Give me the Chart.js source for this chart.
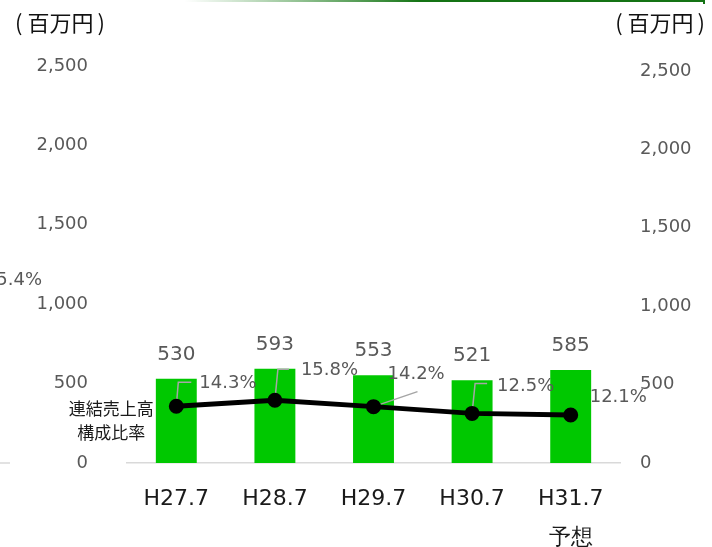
<!DOCTYPE html>
<html>
<head>
<meta charset="utf-8">
<script src="https://cdn.jsdelivr.net/npm/chart.js@4"></script>
<style>
  html, body { margin: 0; padding: 0; background: #ffffff; }
  #wrap { width: 712px; height: 547px; position: relative; }
</style>
</head>
<body>
<div id="wrap"><canvas id="chart" width="712" height="547"></canvas></div>
<script>
// 連結売上高（百万円）と構成比率（%）
const categories = ["H27.7", "H28.7", "H29.7", "H30.7", ["H31.7", "予想"]];
const sales = [530, 593, 553, 521, 585];
const shareRatio = [14.3, 15.8, 14.2, 12.5, 12.1];
const amountTicks = [0, 500, 1000, 1500, 2000, 2500];
const unitLabel = "百万円";
const seriesName = ["連結売上高", "構成比率"];
const offChartRatio = "15.4%";

// label placement for the ratio values (relative to each point)
const ratioLabelPlacement = [
  { dx: 23, dy: -23, leader: [[2, -24], [15, -24]] },
  { dx: 26, dy: -30, leader: [[3, -31], [14, -31]] },
  { dx: 14, dy: -32, leader: [[44, -15]] },
  { dx: 25, dy: -27, leader: [[3, -30], [15, -30]] },
  { dx: 19, dy: -18, leader: [] }
];

const GREY_TEXT = '#595959';
const NUM_FONT = '"DejaVu Sans", Verdana, sans-serif';
const JP_FONT = '"Noto Sans CJK JP", "Noto Sans", sans-serif';

// "(unit)" caption with a little air inside the parentheses
function drawUnit(ctx, startX, y) {
  ctx.textAlign = 'left';
  const wOpen = ctx.measureText('(').width;
  const wText = ctx.measureText(unitLabel).width;
  ctx.fillText('(', startX, y);
  ctx.fillText(unitLabel, startX + wOpen + 5, y);
  ctx.fillText(')', startX + wOpen + 5 + wText + 4, y);
  return wOpen + 5 + wText + 4 + ctx.measureText(')').width;
}

const annotate = {
  id: 'annotate',
  afterDatasetDraw(chart, args) {
    if (args.index !== 0) return;
    // leader lines sit above the bars but under the ratio line
    const ctx = chart.ctx;
    const pts = chart.getDatasetMeta(1).data;
    ctx.save();
    ctx.strokeStyle = '#a6a6a6';
    ctx.lineWidth = 1.5;
    pts.forEach((p, i) => {
      const lead = ratioLabelPlacement[i].leader;
      if (!lead.length) return;
      ctx.beginPath();
      ctx.moveTo(p.x, p.y);
      lead.forEach(([dx, dy]) => ctx.lineTo(p.x + dx, p.y + dy));
      ctx.stroke();
    });
    ctx.restore();
  },
  afterDraw(chart) {
    const ctx = chart.ctx;
    const area = chart.chartArea;
    const bars = chart.getDatasetMeta(0).data;
    const pts = chart.getDatasetMeta(1).data;
    ctx.save();

    // bar values
    ctx.fillStyle = GREY_TEXT;
    ctx.font = '20px ' + NUM_FONT;
    ctx.textAlign = 'center';
    ctx.textBaseline = 'middle';
    bars.forEach((b, i) => ctx.fillText(String(sales[i]), b.x, b.y - 24.5));

    // ratio values
    ctx.font = '18px ' + NUM_FONT;
    ctx.textAlign = 'left';
    pts.forEach((p, i) => {
      const pl = ratioLabelPlacement[i];
      ctx.fillText(shareRatio[i].toFixed(1) + '%', p.x + pl.dx, p.y + pl.dy);
    });

    // ratio carried over from the neighbouring panel, cut by the edge
    ctx.textAlign = 'right';
    ctx.fillText(offChartRatio, 42, 280);

    // series name beside the first point
    ctx.fillStyle = '#1a1a1a';
    ctx.font = '17px ' + JP_FONT;
    ctx.textAlign = 'center';
    const p0 = pts[0];
    ctx.fillText(seriesName[0], p0.x - 65, p0.y + 2);
    ctx.fillText(seriesName[1], p0.x - 65, p0.y + 26);

    // unit captions
    ctx.font = '22px ' + JP_FONT;
    ctx.fillStyle = '#111111';
    const unitW = drawUnit(ctx, 15, 23);
    drawUnit(ctx, 705 - unitW, 23);

    // baseline stub of the neighbouring panel
    ctx.strokeStyle = '#d9d9d9';
    ctx.lineWidth = 1.5;
    ctx.beginPath();
    ctx.moveTo(0, area.bottom);
    ctx.lineTo(10, area.bottom);
    ctx.stroke();

    // green rule along the top edge
    const g = ctx.createLinearGradient(185, 0, 420, 0);
    g.addColorStop(0, 'rgba(40,140,40,0)');
    g.addColorStop(1, 'rgba(20,115,20,1)');
    ctx.strokeStyle = g;
    ctx.lineWidth = 2;
    ctx.beginPath();
    ctx.moveTo(185, 1);
    ctx.lineTo(704, 1);
    ctx.lineTo(704, 4);
    ctx.stroke();

    ctx.restore();
  }
};

new Chart(document.getElementById('chart'), {
  data: {
    labels: categories,
    datasets: [
      {
        type: 'bar',
        label: '連結売上高',
        data: sales,
        backgroundColor: '#00c800',
        borderWidth: 0,
        barPercentage: 0.415,
        categoryPercentage: 1,
        yAxisID: 'y',
        order: 2
      },
      {
        type: 'line',
        label: '構成比率',
        data: shareRatio,
        borderColor: '#000000',
        backgroundColor: '#000000',
        borderWidth: 5,
        pointRadius: 5,
        pointHoverRadius: 5,
        tension: 0,
        yAxisID: 'pct',
        order: 1
      }
    ]
  },
  options: {
    responsive: false,
    animation: false,
    events: [],
    layout: { padding: { top: 66, bottom: 0, left: 0, right: 0 } },
    plugins: {
      legend: { display: false },
      tooltip: { enabled: false }
    },
    scales: {
      x: {
        offset: true,
        grid: { display: false },
        border: { display: true, color: '#d9d9d9', width: 1.5 },
        ticks: {
          color: '#1a1a1a',
          padding: 8,
          maxRotation: 0,
          autoSkip: false,
          font: { family: NUM_FONT, size: 22, lineHeight: 1.8 }
        },
        afterFit(s) { s.height = 84; }
      },
      y: {
        position: 'left',
        min: 0,
        max: 2500,
        grid: { display: false },
        border: { display: false },
        ticks: {
          stepSize: 500,
          padding: 31,
          color: GREY_TEXT,
          font: { family: NUM_FONT, size: 18 },
          callback: v => v.toLocaleString('en-US')
        },
        afterBuildTicks(s) { s.ticks = amountTicks.map(v => ({ value: v })); },
        afterFit(s) { s.width = 127; }
      },
      yRight: {
        position: 'right',
        display: true,
        min: 0,
        max: 2532,
        grid: { display: false },
        border: { display: false },
        ticks: {
          padding: 12,
          color: GREY_TEXT,
          font: { family: NUM_FONT, size: 18 },
          callback: v => v.toLocaleString('en-US')
        },
        afterBuildTicks(s) { s.ticks = amountTicks.map(v => ({ value: v })); },
        afterFit(s) { s.width = 92; }
      },
      pct: {
        display: false,
        position: 'right',
        min: 0,
        max: 100
      }
    }
  },
  plugins: [annotate]
});
</script>
</body>
</html>
